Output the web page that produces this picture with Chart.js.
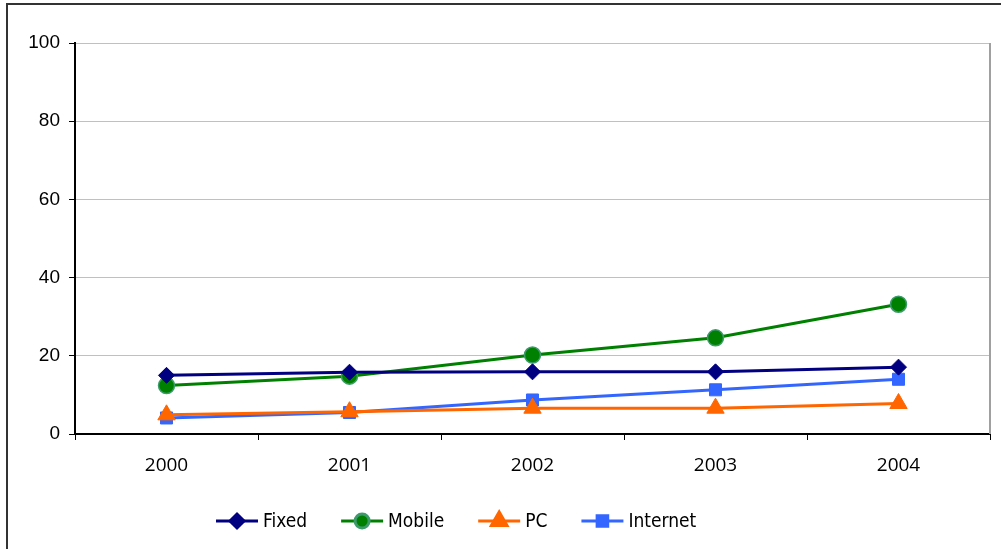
<!DOCTYPE html>
<html>
<head>
<meta charset="utf-8">
<script src="https://cdn.jsdelivr.net/npm/chart.js@4.4.1/dist/chart.umd.min.js"></script>
<style>
  html, body { margin: 0; padding: 0; background: #fff; }
  #wrap { width: 1001px; height: 549px; position: relative; }
</style>
</head>
<body>
<div id="wrap"><canvas id="chart" width="1001" height="549"></canvas></div>
<script>
const years = ['2000', '2001', '2002', '2003', '2004'];
const fixed = [15.0, 15.8, 15.9, 15.9, 17.1];
const mobile = [12.4, 14.8, 20.2, 24.6, 33.2];
const pc = [4.9, 5.7, 6.6, 6.6, 7.8];
const internet = [4.1, 5.5, 8.7, 11.3, 14.0];
const yTicks = [0, 20, 40, 60, 80, 100];

const ctx = document.getElementById('chart').getContext('2d');

// frame, right border of plot area, and an Excel-style legend
const extras = {
    id: 'extras',
    beforeDraw(chart) {
        const c = chart.ctx;
        c.save();
        c.fillStyle = '#fff';
        c.fillRect(0, 0, chart.width, chart.height);
        c.strokeStyle = '#333';
        c.lineWidth = 2;
        c.strokeRect(7, 4, 1100, 600);
        c.restore();
    },
    afterDraw(chart) {
        const c = chart.ctx;
        const a = chart.chartArea;
        c.save();
        c.strokeStyle = '#a0a0a0';
        c.lineWidth = 2;
        c.beginPath();
        c.moveTo(a.right, a.top);
        c.lineTo(a.right, a.bottom);
        c.stroke();

        let x = 216;
        const y = 521;
        c.font = '19px "DejaVu Sans Condensed", "DejaVu Sans", sans-serif';
        c.textBaseline = 'middle';
        chart.data.datasets.forEach(ds => {
            c.strokeStyle = ds.borderColor;
            c.lineWidth = 3;
            c.beginPath();
            c.moveTo(x, y);
            c.lineTo(x + 42, y);
            c.stroke();
            c.fillStyle = ds.pointBackgroundColor;
            c.strokeStyle = ds.pointBorderColor;
            Chart.helpers.drawPoint(c, {
                pointStyle: ds.pointStyle,
                radius: ds.pointRadius - 1,
                rotation: 0,
                borderWidth: 1
            }, x + 21, y);
            c.fillStyle = '#000';
            c.fillText(ds.label, x + 47, y + 1);
            x += 47 + c.measureText(ds.label).width + 34;
        });
        c.restore();
    }
};

new Chart(ctx, {
    type: 'line',
    data: {
        labels: years,
        datasets: [
            {
                label: 'Fixed',
                data: fixed,
                borderColor: '#000080',
                backgroundColor: '#000080',
                pointBackgroundColor: '#000080',
                pointBorderColor: '#000080',
                pointBorderWidth: 1,
                pointStyle: 'rectRot',
                pointRadius: 8,
                borderWidth: 3
            },
            {
                label: 'Mobile',
                data: mobile,
                borderColor: '#008000',
                backgroundColor: '#008000',
                pointBackgroundColor: '#008000',
                pointBorderColor: '#3d9a6a',
                pointBorderWidth: 1.5,
                pointStyle: 'circle',
                pointRadius: 8,
                borderWidth: 3
            },
            {
                label: 'PC',
                data: pc,
                borderColor: '#FF6600',
                backgroundColor: '#FF6600',
                pointBackgroundColor: '#FF6600',
                pointBorderColor: '#FF6600',
                pointBorderWidth: 1,
                pointStyle: 'triangle',
                pointRadius: 10,
                borderWidth: 3
            },
            {
                label: 'Internet',
                data: internet,
                borderColor: '#3366FF',
                backgroundColor: '#3366FF',
                pointBackgroundColor: '#3366FF',
                pointBorderColor: '#3366FF',
                pointBorderWidth: 1,
                pointStyle: 'rect',
                pointRadius: 8.5,
                borderWidth: 3
            }
        ]
    },
    options: {
        responsive: false,
        animation: false,
        layout: { padding: { left: 0, top: 43, right: 9, bottom: 0 } },
        plugins: {
            legend: { display: false },
            tooltip: { enabled: false }
        },
        scales: {
            x: {
                type: 'category',
                offset: true,
                grid: {
                    offset: true,
                    drawOnChartArea: false,
                    tickLength: 6,
                    tickColor: '#000',
                    lineWidth: 1
                },
                border: { color: '#000', width: 2 },
                ticks: {
                    color: '#000',
                    padding: 14,
                    font: { family: '"Open Sans", sans-serif', size: 19 }
                },
                afterFit(scale) { scale.height = 115; }
            },
            y: {
                min: 0,
                max: 100,
                afterBuildTicks(scale) {
                    scale.ticks = yTicks.map(v => ({ value: v }));
                },
                grid: {
                    color: '#c0c0c0',
                    lineWidth: 1,
                    tickLength: 6,
                    tickColor: '#000'
                },
                border: { color: '#000', width: 2 },
                ticks: {
                    color: '#000',
                    padding: 9,
                    font: { family: '"Liberation Sans", Arial, sans-serif', size: 19 }
                },
                afterFit(scale) { scale.width = 75; }
            }
        }
    },
    plugins: [extras]
});
</script>
</body>
</html>
